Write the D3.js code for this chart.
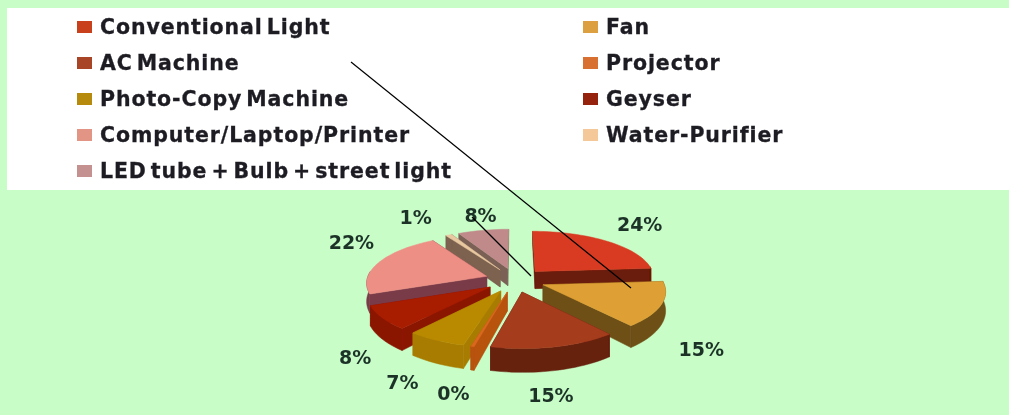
<!DOCTYPE html>
<html><head><meta charset="utf-8">
<script src="https://cdn.jsdelivr.net/npm/d3@7/dist/d3.min.js"></script>
<style>html,body{margin:0;padding:0;background:#c8fdc8;overflow:hidden}svg{display:block}</style>
</head><body><svg id="c" width="1009" height="415"></svg>
<script>
const categories = ["Conventional Light","Fan","AC Machine","Projector","Photo-Copy Machine","Geyser","Computer/Laptop/Printer","Water-Purifier","LED tube + Bulb + street light"];
const values = [24,15,15,0.4,7,8,22,1,8];
const legendColors = ["#c8401f","#dca040","#a84428","#d87030","#b58a10","#94210f","#e39585","#f5c89a","#c49090"];
const topColors = ["#d83a20","#dea035","#a53c1e","#d8681e","#b98a05","#a81c02","#ee8f85","#e8c8a0","#c08a8a"];
const wallColors = ["#6b1a08","#6e4f16","#66200e","#b8520f","#a87c05","#8a1505","#7a3a48","#7d6250","#7a6055"];
const labelNudge = [[19,-9],[11,41],[-12,35],[-10,34],[-17,30],[0,33],[-4,-15],[-23,-10],[2,-6]];

const svg = d3.select("#c");
const defs = svg.append("defs");
defs.append("filter").attr("id","soft").append("feGaussianBlur").attr("stdDeviation",0.55);
svg.append("rect").attr("width",1009).attr("height",415).attr("fill","#c8fdc8");
svg.append("rect").attr("x",7).attr("y",8).attr("width",1002).attr("height",182).attr("fill","#fff");

// legend
const rowY = d3.scalePoint().domain(d3.range(5)).range([27,171]);
const legend = svg.append("g").attr("filter","url(#soft)");
categories.forEach((c,i)=>{
  const col = i%2, row = Math.floor(i/2);
  const g = legend.append("g").attr("transform",`translate(${col?583:77},${rowY(row)})`);
  g.append("rect").attr("x",0).attr("y",-6).attr("width",15).attr("height",12).attr("fill",legendColors[i]);
  g.append("text").attr("x",23).attr("y",7).text(c)
   .attr("font-family","DejaVu Sans").attr("font-weight","bold").attr("font-size",20.5)
   .attr("letter-spacing",0.9).attr("word-spacing",-4).attr("stroke","#1d1d24").attr("stroke-width",0.3).attr("fill","#1d1d24");
});

// pie geometry
const cx=515, cy=280, R=120, explode=30, tilt=0.4, persp=0.001, depth=18;
const project=(u,v,z=0)=>{const s=1+persp*v; return [cx+u*s, cy+tilt*v*s+z*depth*s*s];};
const pie = d3.pie().sort(null).value(d=>d)(values);
const line = d3.line();
const slices = pie.map((p,i)=>({i,a0:p.startAngle,a1:p.endAngle,mid:(p.startAngle+p.endAngle)/2}));
const chart = svg.append("g").attr("filter","url(#soft)");
const polar=(s,a,r)=>{const ou=explode*Math.sin(s.mid),ov=-explode*Math.cos(s.mid);return [ou+r*Math.sin(a),ov-r*Math.cos(a)];};

slices.slice().sort((a,b)=>(-Math.cos(a.mid))-(-Math.cos(b.mid))).forEach(s=>{
  const g=chart.append("g");
  const n=Math.max(2,Math.ceil((s.a1-s.a0)/0.04));
  const as=d3.range(n+1).map(k=>s.a0+(s.a1-s.a0)*k/n);
  const apex=polar(s,0,0);
  const face=(pts,col)=>g.append("path").attr("d",line(pts)+"Z").attr("fill",col).attr("stroke",col).attr("stroke-width",0.5);
  [s.a0,s.a1].forEach(a=>{
    const e=polar(s,a,R);
    face([project(...apex,0),project(...e,0),project(...e,1),project(...apex,1)],wallColors[s.i]);
  });
  const front=as.filter(a=>Math.cos(a)<0.12);
  if(front.length>1){
    const t=front.map(a=>project(...polar(s,a,R),0));
    const b=front.map(a=>project(...polar(s,a,R),1)).reverse();
    face(t.concat(b),wallColors[s.i]);
  }
  face([project(...apex,0)].concat(as.map(a=>project(...polar(s,a,R),0))),topColors[s.i]);
});

// data labels
const labels=svg.append("g").attr("filter","url(#soft)");
slices.forEach(s=>{
  const [x,y]=project(...polar(s,s.mid,R+28),0);
  labels.append("text").attr("x",x+labelNudge[s.i][0]).attr("y",y+labelNudge[s.i][1])
   .attr("text-anchor","middle").attr("dominant-baseline","middle")
   .attr("font-family","DejaVu Sans").attr("font-weight","bold").attr("font-size",19).attr("fill","#1c3328")
   .text(Math.round(values[s.i])+"%");
});

// hand-drawn annotation lines in the source image
const notes=[[[351,62],[631,288]],[[472,217],[531,276]]];
notes.forEach(p=>svg.append("path").attr("d",line(p)).attr("stroke","#000").attr("stroke-width",1.2).attr("fill","none"));
</script></body></html>
